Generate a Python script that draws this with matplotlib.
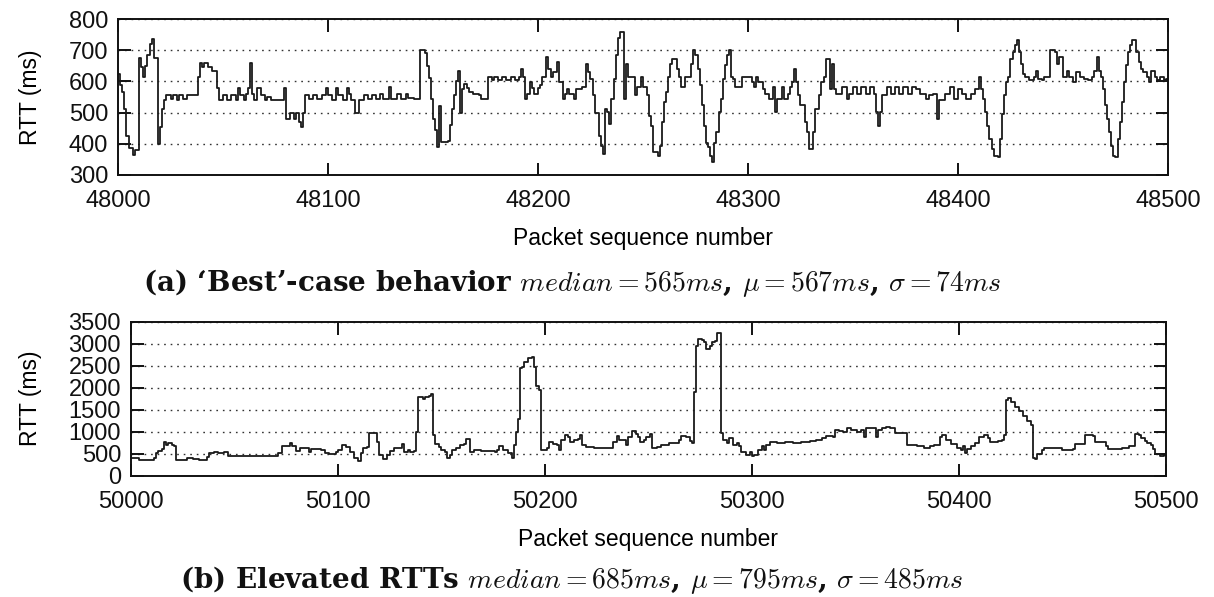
import matplotlib
matplotlib.use("Agg")
import matplotlib.pyplot as plt

# RTT traces (offset from first seq number, ms)
best_base = 48000
best_seq = [0, 1, 2, 3, 4, 5, 7, 8, 10, 11, 12, 13, 14, 15, 16, 17, 19, 20, 21, 22,
            23, 25, 26, 28, 29, 31, 33, 38, 39, 40, 41, 43, 45, 47, 48, 50, 52, 54, 56, 57,
            58, 60, 61, 62, 63, 64, 65, 66, 68, 70, 71, 73, 79, 80, 82, 84, 85, 86, 87, 88,
            89, 91, 93, 95, 97, 99, 100, 102, 104, 105, 107, 109, 110, 111, 113, 115, 117, 119, 121, 123,
            125, 126, 129, 130, 133, 135, 137, 138, 141, 144, 146, 147, 148, 149, 150, 151, 152, 153, 154, 157,
            158, 159, 160, 161, 162, 163, 164, 165, 166, 167, 169, 172, 173, 176, 178, 179, 181, 183, 185, 187,
            189, 191, 192, 193, 194, 195, 196, 197, 198, 200, 201, 202, 204, 205, 206, 207, 209, 210, 212, 213,
            214, 215, 217, 218, 221, 223, 224, 225, 226, 227, 229, 230, 231, 232, 233, 234, 235, 236, 237, 238,
            239, 241, 242, 243, 246, 247, 249, 250, 252, 253, 254, 255, 257, 258, 259, 260, 261, 262, 263, 264,
            266, 267, 268, 270, 273, 274, 275, 276, 277, 278, 279, 280, 281, 282, 283, 284, 285, 286, 287, 288,
            289, 290, 291, 292, 293, 294, 297, 302, 303, 304, 305, 307, 308, 310, 312, 313, 314, 316, 317, 319,
            320, 321, 322, 323, 324, 325, 327, 328, 329, 331, 332, 334, 335, 336, 337, 339, 340, 341, 342, 345,
            347, 348, 350, 352, 354, 356, 358, 360, 361, 362, 363, 364, 366, 368, 370, 372, 374, 376, 378, 380,
            382, 385, 386, 388, 390, 391, 394, 396, 398, 400, 402, 404, 406, 408, 410, 411, 412, 413, 414, 415,
            416, 417, 419, 420, 421, 422, 423, 424, 425, 426, 427, 428, 429, 430, 431, 432, 434, 436, 437, 438,
            440, 441, 444, 446, 447, 448, 450, 452, 453, 455, 456, 458, 460, 462, 464, 465, 466, 467, 468, 469,
            470, 471, 472, 473, 474, 475, 476, 477, 478, 479, 480, 481, 482, 483, 485, 486, 487, 488, 490, 491,
            492, 494, 495, 496, 498, 499, 500]
best_rtt = [625, 590, 565, 510, 425, 385, 365, 380, 675, 645, 615, 650, 685, 720, 735, 675, 400, 455, 510, 540,
            555, 545, 555, 540, 555, 545, 555, 615, 660, 645, 660, 645, 635, 580, 540, 555, 540, 555, 540, 580,
            555, 540, 560, 580, 660, 560, 540, 580, 555, 540, 550, 540, 580, 480, 500, 480, 500, 470, 455, 500,
            555, 545, 555, 545, 555, 580, 555, 540, 580, 555, 540, 580, 560, 540, 500, 540, 555, 545, 555, 545,
            560, 545, 582, 545, 560, 545, 560, 548, 545, 700, 690, 650, 610, 545, 480, 445, 390, 520, 405, 410,
            460, 510, 555, 600, 635, 500, 575, 592, 580, 565, 560, 555, 545, 614, 603, 614, 603, 614, 603, 614,
            603, 614, 640, 614, 544, 560, 598, 578, 560, 578, 590, 614, 678, 641, 614, 630, 662, 598, 544, 560,
            576, 560, 544, 576, 582, 657, 630, 609, 555, 500, 426, 394, 367, 512, 501, 463, 544, 609, 684, 738,
            759, 544, 657, 614, 555, 582, 614, 582, 555, 490, 458, 372, 361, 394, 469, 533, 566, 614, 657, 673,
            641, 614, 582, 614, 657, 700, 684, 641, 588, 523, 458, 404, 388, 361, 340, 404, 437, 501, 544, 609,
            652, 684, 700, 614, 609, 582, 614, 598, 582, 614, 598, 576, 560, 544, 582, 501, 544, 582, 544, 560,
            582, 598, 641, 598, 555, 523, 469, 437, 383, 437, 512, 555, 598, 614, 673, 576, 657, 576, 560, 582,
            544, 560, 582, 560, 582, 560, 582, 560, 501, 458, 501, 555, 582, 560, 582, 560, 582, 560, 582, 576,
            560, 544, 555, 560, 480, 540, 560, 582, 544, 576, 560, 544, 560, 576, 614, 576, 544, 501, 458, 415,
            383, 361, 356, 415, 496, 555, 598, 614, 673, 694, 716, 732, 694, 657, 625, 614, 603, 614, 635, 608,
            603, 614, 700, 694, 657, 678, 614, 635, 614, 598, 630, 614, 608, 603, 614, 635, 678, 635, 614, 576,
            523, 480, 437, 394, 361, 356, 415, 469, 533, 598, 652, 694, 716, 732, 694, 662, 641, 630, 614, 598,
            635, 614, 603, 614, 603, 608, 608]

elev_base = 50000
elev_seq = [0, 4, 11, 12, 13, 15, 16, 17, 18, 20, 21, 22, 24, 27, 30, 33, 37, 38, 40, 42,
            44, 45, 47, 50, 68, 71, 73, 75, 77, 78, 80, 82, 86, 87, 92, 94, 96, 99, 100, 102,
            104, 106, 108, 110, 111, 112, 114, 115, 118, 119, 120, 122, 124, 125, 127, 131, 132, 134, 135, 137,
            138, 139, 141, 142, 144, 145, 146, 147, 149, 150, 152, 153, 154, 155, 157, 159, 161, 162, 164, 166,
            169, 176, 177, 178, 180, 182, 184, 185, 186, 187, 188, 189, 190, 192, 194, 195, 196, 197, 198, 201,
            202, 204, 206, 207, 208, 210, 211, 212, 214, 216, 217, 218, 220, 224, 232, 233, 235, 236, 239, 240,
            242, 244, 245, 246, 248, 249, 251, 252, 254, 256, 260, 265, 266, 268, 270, 271, 272, 273, 274, 276,
            277, 278, 280, 281, 282, 283, 285, 286, 288, 289, 291, 293, 294, 295, 297, 299, 300, 301, 303, 305,
            306, 307, 309, 312, 316, 320, 324, 328, 331, 334, 336, 339, 340, 342, 344, 346, 348, 351, 353, 354,
            355, 359, 360, 361, 363, 365, 367, 369, 375, 380, 383, 386, 388, 391, 392, 394, 396, 399, 401, 402,
            403, 404, 406, 408, 410, 412, 414, 415, 419, 421, 422, 423, 424, 425, 427, 429, 431, 433, 435, 436,
            437, 438, 440, 441, 450, 455, 456, 461, 465, 466, 471, 472, 479, 482, 485, 487, 488, 490, 491, 493,
            494, 495, 497, 499, 500]
elev_rtt = [395, 365, 395, 515, 567, 605, 755, 705, 740, 700, 680, 365, 350, 395, 380, 365, 432, 507, 545, 515,
            505, 530, 455, 447, 455, 515, 680, 665, 740, 680, 567, 620, 530, 610, 590, 515, 495, 530, 590, 695,
            642, 530, 395, 335, 507, 620, 645, 967, 967, 755, 470, 380, 470, 560, 620, 710, 545, 580, 545, 560,
            990, 1800, 1740, 1800, 1810, 1850, 917, 730, 655, 580, 530, 395, 470, 580, 620, 695, 730, 830, 545, 580,
            560, 545, 580, 680, 580, 505, 410, 695, 990, 1290, 2445, 2480, 2590, 2670, 2705, 2480, 2035, 1960, 580, 620,
            770, 730, 695, 580, 805, 917, 880, 770, 805, 840, 917, 695, 655, 635, 620, 770, 900, 805, 695, 880,
            1010, 955, 880, 770, 805, 880, 955, 620, 655, 695, 740, 815, 910, 870, 790, 740, 1900, 2950, 3100, 3085,
            3040, 2890, 2950, 3030, 3070, 3240, 965, 815, 740, 850, 700, 740, 665, 540, 480, 550, 440, 480, 590, 665,
            590, 700, 760, 740, 760, 740, 775, 790, 815, 850, 910, 890, 1040, 1020, 1000, 1080, 1040, 1000, 1040, 890,
            1080, 1080, 890, 1040, 1090, 1115, 1080, 965, 700, 665, 640, 665, 700, 870, 930, 820, 710, 620, 575, 670,
            520, 600, 670, 750, 875, 935, 860, 770, 790, 820, 935, 1720, 1760, 1685, 1570, 1460, 1350, 1250, 1160, 410,
            372, 485, 575, 635, 575, 600, 725, 935, 900, 770, 670, 600, 620, 670, 950, 935, 860, 800, 750, 700,
            600, 500, 450, 470, 470]

best_caption = r"(a) ‘Best’-case behavior $median = 565ms$, $\mu = 567ms$, $\sigma = 74ms$"
elev_caption = r"(b) Elevated RTTs $median = 685ms$, $\mu = 795ms$, $\sigma = 485ms$"

plt.rcParams['font.family'] = ['Liberation Sans', 'DejaVu Sans']
plt.rcParams['mathtext.fontset'] = 'cm'
plt.rcParams['text.color'] = '#111111'

fig = plt.figure(figsize=(12.14, 5.97), dpi=100)
ax1 = fig.add_axes([0.0972, 0.707, 0.8649, 0.261])
ax2 = fig.add_axes([0.1077, 0.2032, 0.8526, 0.2578])


def style(ax, yticks):
    ax.set_yticks(yticks)
    ax.set_ylim(yticks[0], yticks[-1])
    for s in ax.spines.values():
        s.set_linewidth(1.4)
        s.set_color('#111111')
    ax.tick_params(direction='in', length=9, width=1.4, top=True, right=True,
                   labelsize=17, colors='#111111')
    ax.tick_params(axis='x', pad=11)
    ax.tick_params(axis='y', pad=7)
    ax.yaxis.grid(True, linestyle=(0, (1.2, 3.5)), color='#333333', linewidth=1.0)
    ax.set_ylabel("RTT (ms)", fontsize=16.5)
    ax.set_xlabel("Packet sequence number", fontsize=16.5, labelpad=11)


xs = [best_base + s for s in best_seq]
ax1.step(xs, best_rtt, where='post', color='#1a1a1a', linewidth=1.3)
ax1.set_xlim(48000, 48500)
ax1.set_xticks(range(48000, 48501, 100))
style(ax1, list(range(300, 801, 100)))
ax1.yaxis.set_label_coords(-0.072, 0.5)

xs = [elev_base + s for s in elev_seq]
ax2.step(xs, elev_rtt, where='post', color='#1a1a1a', linewidth=1.3)
ax2.set_xlim(50000, 50500)
ax2.set_xticks(range(50000, 50501, 100))
style(ax2, list(range(0, 3501, 500)))
ax2.yaxis.set_label_coords(-0.086, 0.5)

fig.text(0.471, 0.526, best_caption, ha='center', va='center', fontsize=20,
         family='DejaVu Serif', weight='bold')
fig.text(0.471, 0.028, elev_caption, ha='center', va='center', fontsize=20,
         family='DejaVu Serif', weight='bold')

fig.savefig("out.png", dpi=100)
